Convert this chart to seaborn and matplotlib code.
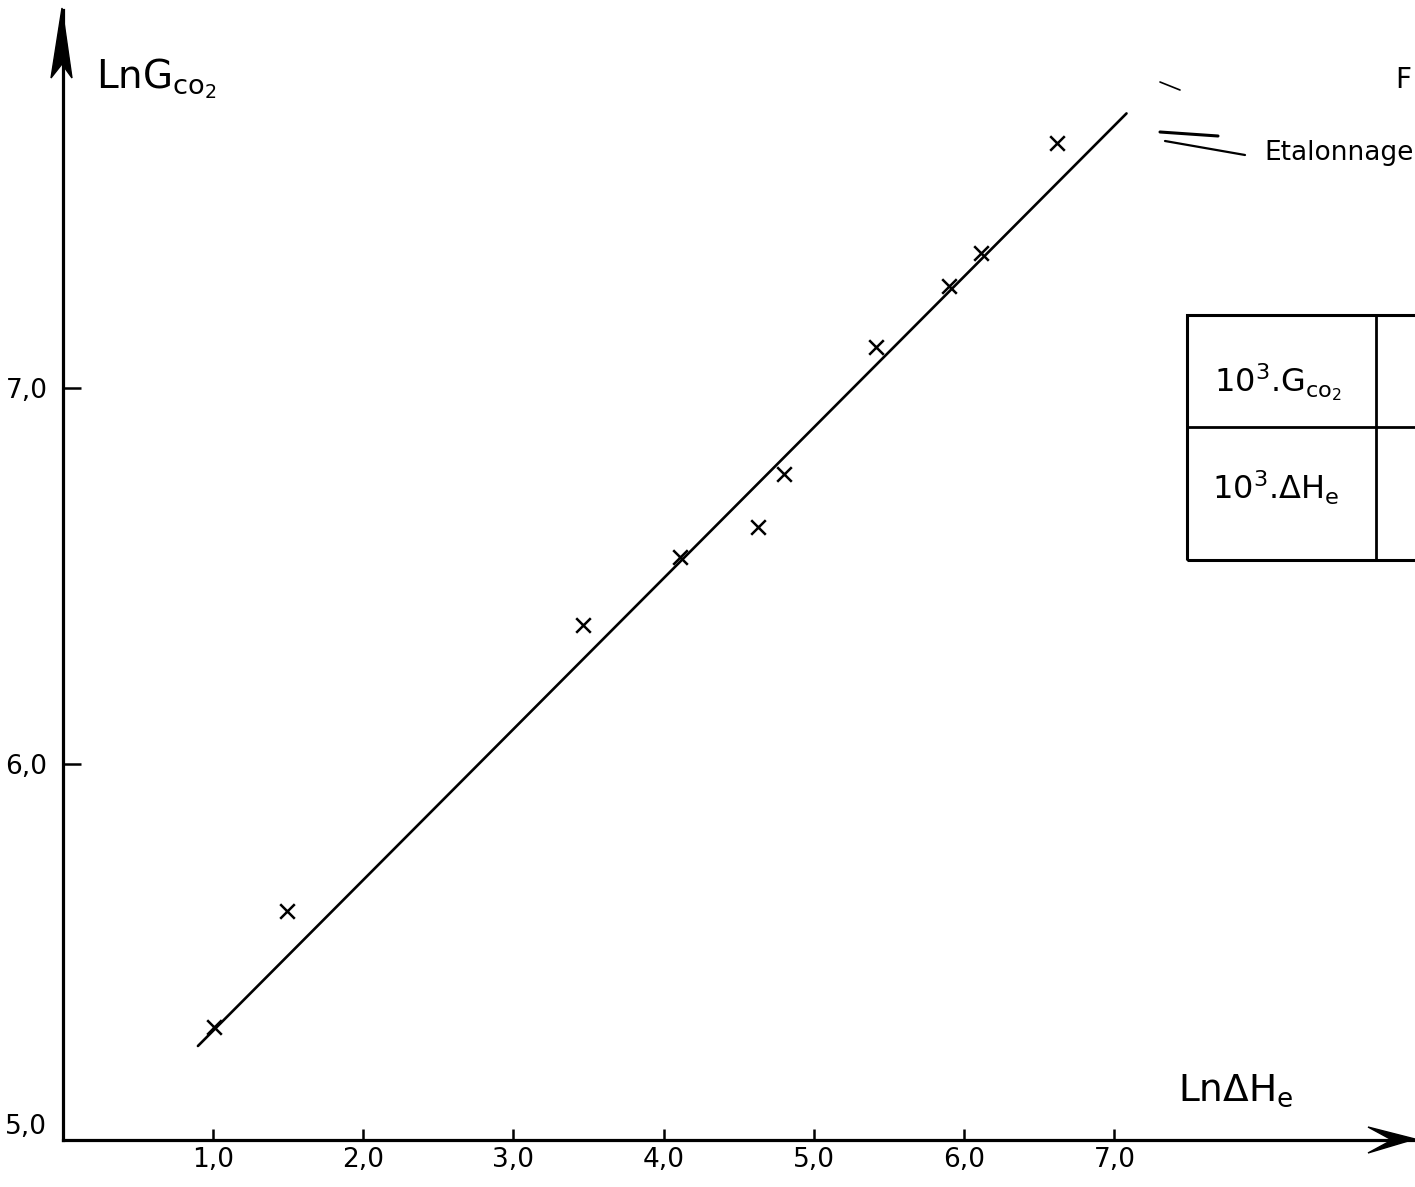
import matplotlib
matplotlib.use("Agg")
import matplotlib.pyplot as plt
import seaborn as sns
import pandas as pd
from matplotlib.patches import Polygon, Rectangle
from matplotlib.lines import Line2D

# ---- data ----
ln_dHe = [1.01, 1.49, 3.46, 4.11, 4.63, 4.80, 5.41, 5.90, 6.11, 6.62]
ln_Gco2 = [5.30, 5.61, 6.37, 6.55, 6.63, 6.77, 7.11, 7.27, 7.36, 7.65]
fit_x = [0.90, 7.08]
fit_y = [5.25, 7.73]
x_ticks = [1, 2, 3, 4, 5, 6, 7]
x_tick_labels = ["1,0", "2,0", "3,0", "4,0", "5,0", "6,0", "7,0"]
y_ticks = [5, 6, 7]
y_tick_labels = ["5,0", "6,0", "7,0"]

pts = pd.DataFrame({"x": ln_dHe, "y": ln_Gco2})
fit = pd.DataFrame({"x": fit_x, "y": fit_y})

sns.set_theme(style="ticks")
plt.rcParams["font.family"] = ["DejaVu Sans"]
plt.rcParams["mathtext.default"] = "regular"

W, H = 1415, 1187
fig = plt.figure(figsize=(W / 100, H / 100), dpi=100)
fig.patch.set_facecolor("white")


def fx(px):
    return px / W


def fy(py):
    return 1 - py / H


ax = fig.add_axes([fx(62.7), fy(1140), fx(1415) - fx(62.7), fy(10) - fy(1140)])
ax.set_facecolor("white")

sns.lineplot(data=fit, x="x", y="y", color="black", linewidth=1.9, ax=ax)
sns.scatterplot(data=pts, x="x", y="y", marker="x", s=110, color="black",
                linewidth=1.8, ax=ax, zorder=3)

ax.set_xlim(0, 9.0)
ax.set_ylim(5, 8.005)
ax.set_xlabel("")
ax.set_ylabel("")
for s in ["top", "right"]:
    ax.spines[s].set_visible(False)
for s in ["left", "bottom"]:
    ax.spines[s].set_linewidth(2.3)
    ax.spines[s].set_color("black")

ax.set_xticks(x_ticks)
ax.set_xticklabels(x_tick_labels)
ax.set_yticks(y_ticks)
ax.set_yticklabels(y_tick_labels)
ax.tick_params(axis="x", direction="in", length=8, width=1.8, pad=5,
               labelsize=19, colors="black")
ax.tick_params(axis="y", direction="in", length=13, width=1.8, pad=11,
               labelsize=19, colors="black")
for lbl in ax.get_yticklabels():
    if lbl.get_text() == "5,0":
        lbl.set_verticalalignment("bottom")

# arrowheads on the axes
fig.patches.append(Polygon([(fx(62), fy(8)), (fx(51), fy(78)), (fx(62), fy(64)),
                            (fx(72), fy(78))], closed=True, transform=fig.transFigure,
                           facecolor="black", edgecolor="black"))
fig.patches.append(Polygon([(fx(1415), fy(1139)), (fx(1368), fy(1127)), (fx(1392), fy(1140)),
                            (fx(1368), fy(1153))], closed=True, transform=fig.transFigure,
                           facecolor="black", edgecolor="black"))

# axis titles
fig.text(fx(96), fy(88), r"LnG$_{\mathrm{co}_2}$", fontsize=28, color="black")
fig.text(fx(1178), fy(1101), r"Ln$\Delta$H$_\mathrm{e}$", fontsize=27, color="black")

# legend-like note
fig.lines.append(Line2D([fx(1160), fx(1218)], [fy(132), fy(136)], transform=fig.transFigure,
                        color="black", linewidth=2.2))
fig.lines.append(Line2D([fx(1165), fx(1245)], [fy(141), fy(155)], transform=fig.transFigure,
                        color="black", linewidth=1.6))
fig.lines.append(Line2D([fx(1160), fx(1180)], [fy(82), fy(90)], transform=fig.transFigure,
                        color="black", linewidth=1.2))
fig.text(fx(1264), fy(160), "Etalonnage", fontsize=19, color="black")
fig.text(fx(1395), fy(88), "F", fontsize=20, color="black")

# partial table
tab = Rectangle((fx(1187), fy(560)), fx(1440) - fx(1187), fy(315) - fy(560),
                transform=fig.transFigure, fill=False, edgecolor="black", linewidth=2.2)
fig.patches.append(tab)
fig.lines.append(Line2D([fx(1187), fx(1415)], [fy(427), fy(427)], transform=fig.transFigure,
                        color="black", linewidth=2.0))
fig.lines.append(Line2D([fx(1376), fx(1376)], [fy(315), fy(560)], transform=fig.transFigure,
                        color="black", linewidth=2.0))
fig.text(fx(1214), fy(392), r"10$^{3}$.G$_{\mathrm{co}_2}$", fontsize=23, color="black")
fig.text(fx(1212), fy(500), r"10$^{3}$.$\Delta$H$_\mathrm{e}$", fontsize=23, color="black")

fig.savefig("out.png", dpi=100, facecolor="white")
